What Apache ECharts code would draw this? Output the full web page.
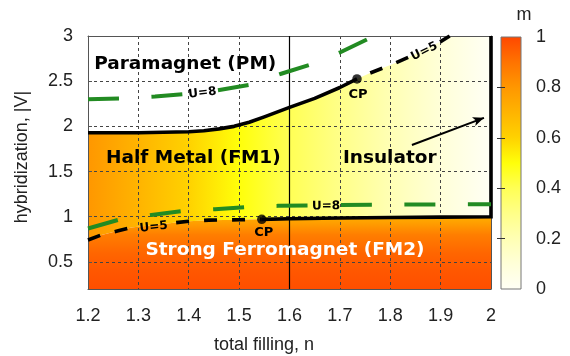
<!DOCTYPE html>
<html>
<head>
<meta charset="utf-8">
<script src="https://cdn.jsdelivr.net/npm/echarts@6/dist/echarts.min.js"></script>
<style>
  html, body { margin: 0; padding: 0; background: #fff; }
  #chart { width: 570px; height: 356px; }
</style>
</head>
<body>
<div id="chart"></div>
<script>
// ---- axes -------------------------------------------------------------
const nMin = 1.2, nMax = 2.0;
const vMin = 0.2, vMax = 3.0;
const vTicks = [0.5, 1, 1.5, 2, 2.5, 3];
const mTicks = [0, 0.2, 0.4, 0.6, 0.8, 1];
const mInnerTicks = [0.2, 0.4, 0.6, 0.8];

// colour scale of m, evenly spaced from m = 0 to m = 1
const mPalette = ['#fffff5', '#ffffd8', '#ffffb4', '#ffff88', '#ffff55', '#ffff0a',
                  '#ffd200', '#ffb400', '#ff9700', '#ff7300', '#ff4800'];

// magnetisation in the half-metal (FM1) versus filling
const fm1N = [1.2, 1.3, 1.4, 1.5, 1.6, 1.7, 1.8, 1.9, 2.0];
const fm1M = [0.80, 0.70, 0.60, 0.50, 0.40, 0.30, 0.20, 0.10, 0.0];

// magnetisation in the strong ferromagnet (FM2) versus hybridization
const fm2V = [0.2, 0.4, 0.6, 0.8, 0.9, 1.0];
const fm2M = [0.985, 0.965, 0.93, 0.87, 0.80, 0.72];

// U=5 phase boundaries (first-order parts solid, crossover parts dashed)
const u5UpperSolidN = [1.2, 1.3, 1.4, 1.43, 1.46, 1.49, 1.52, 1.55, 1.6, 1.65, 1.7, 1.734];
const u5UpperSolidV = [1.93, 1.93, 1.94, 1.952, 1.972, 2.0, 2.045, 2.105, 2.21, 2.31, 2.43, 2.525];
const u5UpperDashN  = [1.734, 1.76, 1.81, 1.836, 1.899, 1.918];
const u5UpperDashV  = [2.525, 2.59, 2.70, 2.765, 2.935, 3.0];
const u5LowerDashN  = [1.2, 1.225, 1.26, 1.286, 1.375, 1.40, 1.44, 1.50, 1.545];
const u5LowerDashV  = [0.742, 0.795, 0.845, 0.88, 0.935, 0.95, 0.962, 0.966, 0.971];
const u5LowerSolidN = [1.545, 1.6, 1.7, 1.8, 1.9, 2.0];
const u5LowerSolidV = [0.971, 0.978, 0.986, 0.992, 0.996, 1.0];
const insulatorN = [2.0, 2.0];
const insulatorV = [1.0, 3.0];

// critical points
const cpN = [1.734, 1.545];
const cpV = [2.525, 0.971];

// U=8 boundaries
const u8UpperN = [1.2, 1.267, 1.333, 1.396, 1.458, 1.522, 1.585, 1.642, 1.701, 1.757, 1.772];
const u8UpperV = [2.30, 2.31, 2.33, 2.36, 2.40, 2.46, 2.585, 2.685, 2.82, 2.97, 3.0];
const u8LowerN = [1.2, 1.26, 1.326, 1.386, 1.452, 1.515, 1.577, 1.643, 1.702, 1.8, 1.9, 2.0];
const u8LowerV = [0.87, 0.965, 1.02, 1.063, 1.083, 1.108, 1.12, 1.126, 1.13, 1.133, 1.136, 1.138];

// reference line at n = 1.6
const markerN = [1.6, 1.6];
const markerV = [0.2, 3.0];

// ---- helpers ----------------------------------------------------------
const zip = (ns, vs) => ns.map((n, i) => [n, vs[i]]);
const mColor = m => echarts.color.lerp(Math.max(0, Math.min(1, m)), mPalette);

// polygons of the coloured phases
const upperEdge = zip(u5UpperSolidN, u5UpperSolidV).concat(zip(u5UpperDashN, u5UpperDashV).slice(1));
const lowerEdge = zip(u5LowerDashN, u5LowerDashV).concat(zip(u5LowerSolidN, u5LowerSolidV).slice(1));
const fm1Poly = upperEdge
  .concat([[nMax, vMax]])
  .concat(zip(insulatorN, insulatorV).reverse())
  .concat(lowerEdge.slice().reverse());
const fm2Poly = lowerEdge.concat([[nMax, vMin], [nMin, vMin]]);

// contour lines with a gap left for their U label (gap after index `gap`)
const contours = [
  { text: 'U=5', ns: u5LowerDashN, vs: u5LowerDashV, gap: 3, color: '#000', width: 3.6, dash: [13, 15], offset: 0, dy: 2 },
  { text: 'U=5', ns: u5UpperDashN, vs: u5UpperDashV, gap: 3, color: '#000', width: 3.6, dash: [13, 15], offset: 13.5, dy: 2 },
  { text: 'U=8', ns: u8UpperN, vs: u8UpperV, gap: 3, color: '#228b22', width: 4, dash: [31, 32.5], offset: 0, dy: 1 },
  { text: 'U=8', ns: u8LowerN, vs: u8LowerV, gap: 7, color: '#228b22', width: 4, dash: [31, 32.5], offset: 0, dy: 1 }
];

const boldFont = size => 'bold ' + size + 'px "DejaVu Sans", sans-serif';
const plainFont = '18px "Liberation Sans", Arial, sans-serif';

const series = [];

// coloured phases
series.push({
  type: 'custom', xAxisIndex: 0, yAxisIndex: 0, z: 1, silent: true,
  data: [[nMin, 1], [nMin, 0.5]],
  renderItem(params, api) {
    const i = params.dataIndex;
    const pts = (i === 0 ? fm1Poly : fm2Poly).map(p => api.coord(p));
    let fill;
    if (i === 0) {
      const x0 = api.coord([fm1N[0], 1])[0];
      const x1 = api.coord([fm1N[fm1N.length - 1], 1])[0];
      const span = fm1N[fm1N.length - 1] - fm1N[0];
      fill = new echarts.graphic.LinearGradient(x0, 0, x1, 0,
        fm1N.map((n, k) => ({ offset: (n - fm1N[0]) / span, color: mColor(fm1M[k]) })), true);
    } else {
      const y0 = api.coord([nMin, fm2V[0]])[1];
      const y1 = api.coord([nMin, fm2V[fm2V.length - 1]])[1];
      const span = fm2V[fm2V.length - 1] - fm2V[0];
      fill = new echarts.graphic.LinearGradient(0, y0, 0, y1,
        fm2V.map((v, k) => ({ offset: (v - fm2V[0]) / span, color: mColor(fm2M[k]) })), true);
    }
    return { type: 'polygon', shape: { points: pts }, style: { fill: fill } };
  }
});

// vertical reference line
series.push({
  type: 'line', xAxisIndex: 0, yAxisIndex: 0, z: 4, silent: true, symbol: 'none',
  data: zip(markerN, markerV), lineStyle: { color: '#000', width: 1.2 }
});

// solid U=5 boundaries and the insulator edge (with its pointer arrow)
series.push({
  type: 'line', xAxisIndex: 0, yAxisIndex: 0, z: 5, silent: true, symbol: 'none', clip: false,
  data: zip(u5UpperSolidN, u5UpperSolidV),
  lineStyle: { color: '#000', width: 3.6, join: 'round' }
});
series.push({
  type: 'line', xAxisIndex: 0, yAxisIndex: 0, z: 5, silent: true, symbol: 'none', clip: false,
  data: zip(u5LowerSolidN, u5LowerSolidV).concat(zip(insulatorN, insulatorV).slice(1)),
  lineStyle: { color: '#000', width: 3.6, join: 'miter' },
  markLine: {
    silent: true, symbol: ['none', 'arrow'], symbolSize: [7, 11],
    label: { show: false },
    lineStyle: { color: '#000', width: 2, type: 'solid' },
    data: [[{ coord: [1.843, 1.794] }, { coord: [1.986, 2.094] }]]
  }
});

// dashed contours, split around their labels
contours.forEach(c => {
  const pts = zip(c.ns, c.vs);
  [pts.slice(0, c.gap + 1), pts.slice(c.gap + 1)].forEach((piece, k) => {
    series.push({
      type: 'line', xAxisIndex: 0, yAxisIndex: 0, z: 5, silent: true, symbol: 'none',
      data: piece,
      lineStyle: { color: c.color, width: c.width, type: c.dash, dashOffset: k === 0 ? c.offset : 0, join: 'round' }
    });
  });
});

// contour labels, centred in the gaps and turned along the line
series.push({
  type: 'custom', xAxisIndex: 0, yAxisIndex: 0, z: 7, silent: true,
  data: contours.map(c => [c.ns[c.gap], c.vs[c.gap]]),
  renderItem(params, api) {
    const c = contours[params.dataIndex];
    const a = api.coord([c.ns[c.gap], c.vs[c.gap]]);
    const b = api.coord([c.ns[c.gap + 1], c.vs[c.gap + 1]]);
    const ang = -Math.atan2(b[1] - a[1], b[0] - a[0]);
    return {
      type: 'text', x: (a[0] + b[0]) / 2, y: (a[1] + b[1]) / 2 + c.dy, rotation: ang,
      style: { text: c.text, fill: '#000', font: boldFont(12), align: 'center', verticalAlign: 'middle' }
    };
  }
});

// critical points
series.push({
  type: 'scatter', xAxisIndex: 0, yAxisIndex: 0, z: 6, silent: true,
  symbolSize: 9.5, itemStyle: { color: '#000' },
  data: zip(cpN, cpV)
});

// phase names and CP tags
const phaseTags = [
  { text: 'Paramagnet (PM)', n: 1.393, v: 2.69, color: '#000', size: 18.5 },
  { text: 'Half Metal (FM1)', n: 1.409, v: 1.647, color: '#000', size: 18.5 },
  { text: 'Insulator', n: 1.799, v: 1.647, color: '#000', size: 18.5 },
  { text: 'Strong Ferromagnet (FM2)', n: 1.591, v: 0.632, color: '#fff', size: 18.5 },
  { text: 'CP', n: 1.736, v: 2.352, color: '#000', size: 13 },
  { text: 'CP', n: 1.549, v: 0.822, color: '#000', size: 13 }
];
series.push({
  type: 'custom', xAxisIndex: 0, yAxisIndex: 0, z: 8, silent: true,
  data: phaseTags.map(t => [t.n, t.v]),
  renderItem(params, api) {
    const t = phaseTags[params.dataIndex];
    const p = api.coord([t.n, t.v]);
    return {
      type: 'text', x: p[0], y: p[1],
      style: { text: t.text, fill: t.color, font: boldFont(t.size), align: 'center', verticalAlign: 'middle' }
    };
  }
});

// colour bar
series.push({
  type: 'custom', xAxisIndex: 2, yAxisIndex: 2, z: 1, silent: true,
  data: [[0, 0]],
  renderItem(params, api) {
    const tl = api.coord([0, 1]);
    const br = api.coord([1, 0]);
    const fill = new echarts.graphic.LinearGradient(0, br[1], 0, tl[1],
      mPalette.map((c, k) => ({ offset: k / (mPalette.length - 1), color: c })), true);
    return {
      type: 'rect',
      shape: { x: tl[0], y: tl[1], width: br[0] - tl[0], height: br[1] - tl[1] },
      style: { fill: fill, stroke: '#777', lineWidth: 1 }
    };
  }
});

const frameLine = { show: true, onZero: false, lineStyle: { color: '#555', width: 1 } };
const gridLine = { show: true, lineStyle: { color: '#444', width: 1, type: [3, 3] } };
const tickLabel = { fontSize: 18, color: '#222', fontFamily: '"Liberation Sans", Arial, sans-serif' };

const option = {
  animation: false,
  backgroundColor: '#fff',
  grid: [
    { left: 88, right: 79, top: 36, bottom: 67 },
    { left: 501, top: 37, width: 20, height: 252 }
  ],
  xAxis: [
    { type: 'value', gridIndex: 0, min: nMin, max: nMax, interval: 0.1, z: 3,
      axisLine: frameLine, axisTick: { show: false },
      axisLabel: Object.assign({ margin: 18 }, tickLabel),
      splitLine: gridLine },
    { type: 'value', gridIndex: 0, position: 'top', min: nMin, max: nMax, z: 3,
      axisLine: frameLine, axisTick: { show: false }, axisLabel: { show: false }, splitLine: { show: false } },
    { type: 'value', gridIndex: 1, min: 0, max: 1, show: false }
  ],
  yAxis: [
    { type: 'value', gridIndex: 0, min: vMin, max: vMax, z: 3,
      axisLine: frameLine,
      axisTick: { show: true, inside: true, length: 4, customValues: vTicks, lineStyle: { color: '#555' } },
      axisLabel: Object.assign({ margin: 15, customValues: vTicks }, tickLabel),
      splitLine: gridLine },
    { type: 'value', gridIndex: 0, position: 'right', min: vMin, max: vMax, z: 3,
      axisLine: frameLine, axisTick: { show: false }, axisLabel: { show: false }, splitLine: { show: false } },
    { type: 'value', gridIndex: 1, position: 'right', min: 0, max: 1, z: 3,
      axisLine: { show: false },
      axisTick: { show: true, inside: true, length: 4, customValues: mInnerTicks, lineStyle: { color: '#333', width: 1 } },
      axisLabel: Object.assign({ margin: 15, customValues: mTicks }, tickLabel),
      splitLine: { show: false } },
    { type: 'value', gridIndex: 1, position: 'left', min: 0, max: 1, z: 3,
      axisLine: { show: false },
      axisTick: { show: true, inside: true, length: 4, customValues: mInnerTicks, lineStyle: { color: '#333', width: 1 } },
      axisLabel: { show: false }, splitLine: { show: false } }
  ],
  graphic: [
    { type: 'text', x: 22.5, y: 157, rotation: Math.PI / 2,
      style: { text: 'hybridization, |V|', font: plainFont, fill: '#222', align: 'center', verticalAlign: 'middle' } },
    { type: 'text', x: 264, y: 345,
      style: { text: 'total filling, n', font: plainFont, fill: '#222', align: 'center', verticalAlign: 'middle' } },
    { type: 'text', x: 524, y: 15,
      style: { text: 'm', font: plainFont, fill: '#222', align: 'center', verticalAlign: 'middle' } }
  ],
  series: series
};

const chart = echarts.init(document.getElementById('chart'));
chart.setOption(option);
</script>
</body>
</html>
